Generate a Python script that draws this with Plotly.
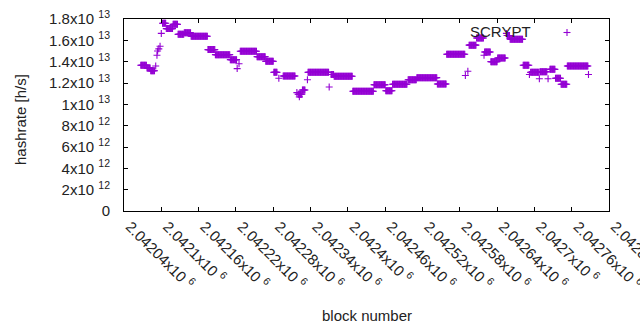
import plotly.graph_objects as go

# Runs of blocks sharing the same hashrate
run_start = [2042067, 2042077, 2042083, 2042091, 2042093, 2042094, 2042096, 2042098, 2042100,
             2042102, 2042108, 2042119, 2042127, 2042137, 2042148, 2042175, 2042187, 2042211,
             2042222, 2042225, 2042227, 2042254, 2042268, 2042281, 2042289, 2042296, 2042318,
             2042320, 2042322, 2042327, 2042335, 2042336, 2042370, 2042373, 2042378, 2042408,
             2042442, 2042461, 2042472, 2042497, 2042511, 2042544, 2042559, 2042589, 2042593,
             2042595, 2042607, 2042619, 2042620, 2042630, 2042641, 2042655, 2042656, 2042661,
             2042682, 2042692, 2042694, 2042708, 2042709, 2042722, 2042725, 2042734, 2042743,
             2042753, 2042787]
run_end = [2042076, 2042082, 2042089, 2042091, 2042093, 2042094, 2042096, 2042098, 2042100,
           2042107, 2042118, 2042126, 2042136, 2042147, 2042174, 2042186, 2042210, 2042221,
           2042222, 2042225, 2042253, 2042267, 2042280, 2042286, 2042289, 2042315, 2042318,
           2042326, 2042322, 2042331, 2042335, 2042369, 2042370, 2042377, 2042407, 2042441,
           2042460, 2042471, 2042495, 2042510, 2042543, 2042558, 2042588, 2042589, 2042593,
           2042606, 2042618, 2042619, 2042629, 2042640, 2042653, 2042655, 2042660, 2042681,
           2042691, 2042692, 2042707, 2042708, 2042720, 2042722, 2042733, 2042742, 2042752,
           2042786, 2042787]
run_hashrate_e12 = [13.66, 13.40, 13.15, 13.60, 14.60, 15.00, 15.20, 15.45, 16.65,
                    17.60, 17.10, 17.50, 16.56, 16.70, 16.38, 15.13, 14.66, 14.19,
                    13.35, 13.80, 14.97, 14.47, 14.03, 13.00, 12.45, 12.65, 11.10,
                    10.95, 10.70, 11.35, 12.30, 13.00, 11.63, 12.80, 12.63, 11.22,
                    11.84, 11.28, 11.88, 12.30, 12.50, 11.90, 14.70, 12.70, 13.10,
                    15.55, 16.22, 14.60, 14.90, 14.00, 14.35, 16.65, 16.45, 16.10,
                    13.66, 12.80, 13.00, 12.40, 13.06, 12.40, 13.28, 12.44, 11.88,
                    13.60, 12.80]

x_tick_vals = [2042040, 2042100, 2042160, 2042220, 2042280, 2042340, 2042400,
               2042460, 2042520, 2042580, 2042640, 2042700, 2042760, 2042820]
x_tick_text = ["2.04204x10 <sup>6</sup>", "2.0421x10 <sup>6</sup>", "2.04216x10 <sup>6</sup>",
               "2.04222x10 <sup>6</sup>", "2.04228x10 <sup>6</sup>", "2.04234x10 <sup>6</sup>",
               "2.0424x10 <sup>6</sup>", "2.04246x10 <sup>6</sup>", "2.04252x10 <sup>6</sup>",
               "2.04258x10 <sup>6</sup>", "2.04264x10 <sup>6</sup>", "2.0427x10 <sup>6</sup>",
               "2.04276x10 <sup>6</sup>", "2.04282x10 <sup>6</sup>"]
y_tick_vals = [0, 2e12, 4e12, 6e12, 8e12, 1e13, 1.2e13, 1.4e13, 1.6e13, 1.8e13]
y_tick_text = ["0", "2x10 <sup>12</sup>", "4x10 <sup>12</sup>", "6x10 <sup>12</sup>",
               "8x10 <sup>12</sup>", "1x10 <sup>13</sup>", "1.2x10 <sup>13</sup>",
               "1.4x10 <sup>13</sup>", "1.6x10 <sup>13</sup>", "1.8x10 <sup>13</sup>"]

blocks, hashrate = [], []
for s, e, v in zip(run_start, run_end, run_hashrate_e12):
    for b in range(s, e + 1):
        blocks.append(b)
        hashrate.append(v * 1e12)

COLOR = "#9400d3"
FONT = "Liberation Sans, Arial, sans-serif"

fig = go.Figure()
fig.add_trace(go.Scatter(
    x=blocks, y=hashrate, mode="markers", name="SCRYPT",
    marker=dict(symbol="cross-thin", size=5, color=COLOR,
                line=dict(color=COLOR, width=1.1)),
    showlegend=False, cliponaxis=True,
))

axis_common = dict(showline=True, linecolor="black", linewidth=1, mirror="ticks",
                   ticks="inside", ticklen=4, tickcolor="black", tickwidth=1,
                   showgrid=False, zeroline=False, automargin=False,
                   ticklabeloverflow="allow",
                   tickfont=dict(family=FONT, size=15, color="#222"))

fig.update_xaxes(range=[2042040, 2042820], tickmode="array", tickvals=x_tick_vals,
                 ticktext=x_tick_text, tickangle=45, ticklabelshift=6, **axis_common)
fig.update_yaxes(range=[0, 1.8e13], tickmode="array", tickvals=y_tick_vals,
                 ticktext=y_tick_text, ticklabelstandoff=10, **axis_common)

# key: text then a sample marker, gnuplot style
fig.add_annotation(x=(533 - 124) / 485, y=(211 - 31.5) / 192, xref="paper", yref="paper",
                   text="SCRYPT", showarrow=False, xanchor="right", yanchor="middle",
                   font=dict(family=FONT, size=15, color="#222"))
kx, ky = (567 - 124) / 485, (211 - 32.5) / 192
fig.add_shape(type="line", xref="paper", yref="paper", xsizemode="pixel", ysizemode="pixel",
              xanchor=kx, yanchor=ky, x0=-3.5, x1=3.5, y0=0, y1=0,
              line=dict(color=COLOR, width=1.1))
fig.add_shape(type="line", xref="paper", yref="paper", xsizemode="pixel", ysizemode="pixel",
              xanchor=kx, yanchor=ky, x0=0, x1=0, y0=-3.5, y1=3.5,
              line=dict(color=COLOR, width=1.1))

fig.add_annotation(x=0.5, y=-(315 - 211) / 192, xref="paper", yref="paper",
                   text="block number", showarrow=False, xanchor="center", yanchor="middle",
                   font=dict(family=FONT, size=15, color="#222"))
fig.add_annotation(x=-(124 - 20) / 485, y=(211 - 120) / 192, xref="paper", yref="paper",
                   text="hashrate [h/s]", showarrow=False, textangle=-90,
                   xanchor="center", yanchor="middle",
                   font=dict(family=FONT, size=15, color="#222"))

fig.update_layout(width=640, height=330, margin=dict(l=124, r=31, t=19, b=119),
                  plot_bgcolor="white", paper_bgcolor="white")

fig.write_html("out.html", config={"displayModeBar": False},
               post_script="document.body.style.margin='0px';document.body.style.overflow='hidden';")
